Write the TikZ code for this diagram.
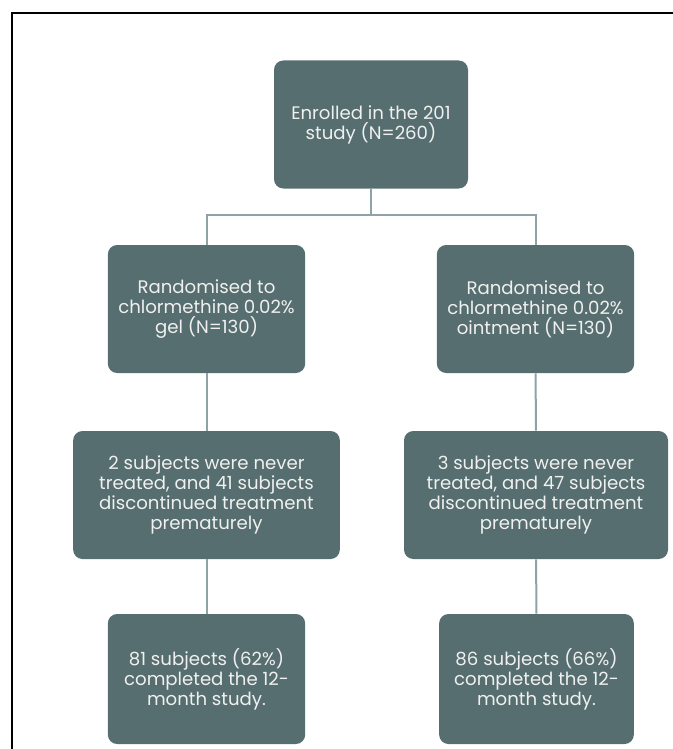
\documentclass[tikz,border=0pt]{standalone}
\usepackage{fontspec}
\setmainfont{Poppins}
\usepackage{tikz}
\usetikzlibrary{positioning}
\definecolor{boxfill}{HTML}{566E6F}
\definecolor{linkcol}{HTML}{8FA3A6}
\tikzset{
  stage/.style={rectangle,rounded corners=7pt,fill=boxfill,text=white!94!black,
    align=center,font=\fontsize{13.6}{15}\selectfont,inner sep=0pt},
  link/.style={draw=linkcol,line width=1.5pt}
}

\begin{document}
\begin{tikzpicture}[x=0.75pt,y=-0.75pt]
\useasboundingbox (0,0) rectangle (673,749);
% frame
\draw[line width=1.6pt] (12,749) -- (12,13) -- (673,13);
% boxes
\node[stage,minimum width=145.5pt,minimum height=96pt] (enrolled) at (371,124.5) {Enrolled in the 201\\study (N=260)};
\node[stage,minimum width=148pt,minimum height=96pt] (gel) at (206.5,309) {Randomised to\\chlormethine 0.02\%\\gel (N=130)};
\node[stage,minimum width=148pt,minimum height=96pt] (oint) at (535.5,309) {Randomised to\\chlormethine 0.02\%\\ointment (N=130)};
\node[stage,minimum width=200pt,minimum height=96pt] (geldrop) at (206.5,495) {2 subjects were never\\treated, and 41 subjects\\discontinued treatment\\prematurely};
\node[stage,minimum width=198pt,minimum height=96pt] (ointdrop) at (536,495) {3 subjects were never\\treated, and 47 subjects\\discontinued treatment\\prematurely};
\node[stage,minimum width=148pt,minimum height=97.5pt] (geldone) at (206.5,679) {81 subjects (62\%)\\completed the 12-\\month study.};
\node[stage,minimum width=146pt,minimum height=97.5pt] (ointdone) at (536.5,679) {86 subjects (66\%)\\completed the 12-\\month study.};
% connectors
\draw[link] (enrolled.south) -- ++(0,26) coordinate (split) -| (gel.north);
\draw[link] (split) -| (oint.north);
\draw[link] (gel) -- (geldrop);
\draw[link] (oint) -- (ointdrop);
\draw[link] (geldrop) -- (geldone);
\draw[link] (ointdrop) -- (ointdone);
\end{tikzpicture}
\end{document}
